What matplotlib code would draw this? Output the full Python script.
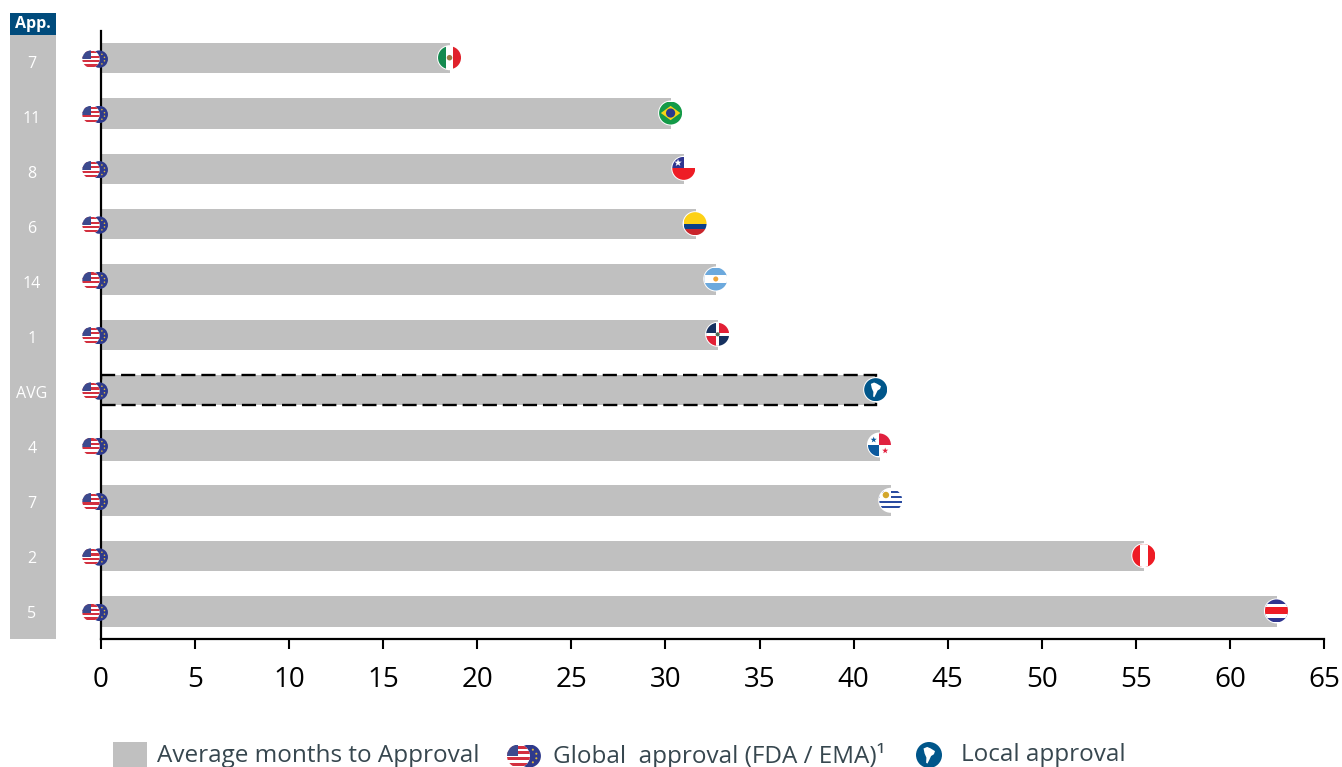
#!/usr/bin/env python3

import matplotlib
matplotlib.use("Agg")
import matplotlib.pyplot as plt
from matplotlib.patches import Rectangle, Circle, Polygon, PathPatch
from matplotlib.path import Path
from matplotlib.transforms import Affine2D

plt.rcParams['font.family'] = ['Open Sans', 'DejaVu Sans']

countries = ["Mexico", "Brazil", "Chile", "Colombia", "Argentina", "Dominican Republic",
             "AVG", "Panama", "Uruguay", "Peru", "Costa Rica"]
months = [18.55, 30.3, 31.0, 31.6, 32.7, 32.8, 41.2, 41.4, 42.0, 55.45, 62.5]
approvals = ["7", "11", "8", "6", "14", "1", "AVG", "4", "7", "2", "5"]
x_ticks = [0, 5, 10, 15, 20, 25, 30, 35, 40, 45, 50, 55, 60, 65]

W, H = 1342, 767
GREY = "#c0c0c0"
NAVY = "#004b7c"
BLUE = "#00568a"
TEXT = "#37474f"

fig = plt.figure(figsize=(W / 100, H / 100), dpi=100)
ax = fig.add_axes([101 / W, 1 - 639 / H, (1324 - 101) / W, (639 - 31) / H])

rows = list(range(len(countries)))
ax.barh(rows, months, height=0.55, color=GREY, zorder=1)

# dashed outline around the average row
avg = countries.index("AVG")
ax.barh(avg, months[avg], height=0.55, facecolor="none", edgecolor="black",
        linewidth=1.7, linestyle=(0, (6, 2.5)), zorder=2)

ax.set_xlim(0, 65)
ax.set_ylim(10.5, -0.49)
ax.set_xticks(x_ticks)
ax.set_yticks([])
ax.tick_params(axis="x", length=7.5, width=1.5, pad=12, labelsize=20, color="black")
ax.spines["top"].set_visible(False)
ax.spines["right"].set_visible(False)
ax.spines["left"].set_linewidth(1.6)
ax.spines["bottom"].set_linewidth(1.6)
ax.patch.set_alpha(0)


def px(x, y):
    return x, H - y


# a round badge: shapes are given on the unit disc and clipped to it
class Disc:
    def __init__(self, cx, cy, r, z=5, ring=True):
        self.tr = Affine2D().scale(r).translate(cx, cy)
        self.z = z
        self.clip = Circle((0, 0), 1, transform=self.tr, facecolor="none", edgecolor="none")
        if ring:
            fig.add_artist(Circle((cx, cy), r + 1.0, transform=Affine2D(), facecolor="white",
                                  edgecolor="none", zorder=z))

    def add(self, p):
        p.set_transform(self.tr)
        p.set_zorder(self.z + 0.1)
        p.set_linewidth(0)
        fig.add_artist(p)
        p.set_clip_path(self.clip.get_path(), self.tr)
        return p

    def rect(self, x0, y0, x1, y1, c):
        return self.add(Rectangle((x0, y0), x1 - x0, y1 - y0, facecolor=c))

    def poly(self, pts, c):
        return self.add(Polygon(pts, closed=True, facecolor=c))

    def dot(self, x, y, r, c):
        return self.add(Circle((x, y), r, facecolor=c))

    def star(self, x, y, r, c):
        star = Path.unit_regular_star(5, 0.4).transformed(Affine2D().scale(r).translate(x, y))
        return self.add(PathPatch(star, facecolor=c))


def flag_mexico(d):
    d.rect(-1, -1, -0.33, 1, "#138a4f")
    d.rect(-0.33, -1, 0.33, 1, "white")
    d.rect(0.33, -1, 1, 1, "#e0222b")
    d.dot(0, 0, 0.24, "#9a7a45")


def flag_brazil(d):
    d.rect(-1, -1, 1, 1, "#139a48")
    d.poly([(-0.85, 0), (0, 0.62), (0.85, 0), (0, -0.62)], "#f7d417")
    d.dot(0, 0, 0.4, "#2b3a8f")


def flag_chile(d):
    d.rect(-1, 0, 1, 1, "white")
    d.rect(-1, -1, 1, 0, "#ee1c25")
    d.rect(-1, 0, 0, 1, "#2f3590")
    d.star(-0.5, 0.48, 0.34, "white")


def flag_colombia(d):
    d.rect(-1, 0, 1, 1, "#fdd116")
    d.rect(-1, -0.5, 1, 0, "#0b3f8a")
    d.rect(-1, -1, 1, -0.5, "#c9252c")


def flag_argentina(d):
    d.rect(-1, -1, 1, 1, "#6ca9dd")
    d.rect(-1, -0.36, 1, 0.36, "white")
    d.dot(0, 0, 0.22, "#f0a63a")


def flag_dominican(d):
    d.rect(-1, 0, 0, 1, "#16305f")
    d.rect(0, 0, 1, 1, "#e21f35")
    d.rect(-1, -1, 0, 0, "#e21f35")
    d.rect(0, -1, 1, 0, "#16305f")
    d.rect(-1, -0.14, 1, 0.14, "white")
    d.rect(-0.14, -1, 0.14, 1, "white")
    d.dot(0, 0, 0.18, "#4f6a55")


def flag_avg(d):
    d.rect(-1, -1, 1, 1, BLUE)
    d.poly([(-0.42, 0.5), (-0.14, 0.62), (0.1, 0.52), (0.46, 0.3), (0.38, 0.06),
            (0.16, -0.08), (0.04, -0.34), (-0.12, -0.66), (-0.22, -0.6),
            (-0.2, -0.2), (-0.34, 0.12)], "white")


def flag_panama(d):
    d.rect(-1, 0, 0, 1, "white")
    d.rect(0, 0, 1, 1, "#e0213f")
    d.rect(-1, -1, 0, 0, "#0d5a9e")
    d.rect(0, -1, 1, 0, "white")
    d.star(-0.5, 0.45, 0.28, "#0d5a9e")
    d.star(0.5, -0.5, 0.28, "#e0213f")


def flag_uruguay(d):
    d.rect(-1, -1, 1, 1, "white")
    for y in [0.28, -0.16, -0.6, 0.72]:
        d.rect(-1, y - 0.11, 1, y + 0.11, "#2a4ba0")
    d.rect(-1, 0, 0, 1, "white")
    d.dot(-0.42, 0.46, 0.28, "#d3a72c")


def flag_peru(d):
    d.rect(-1, -1, 1, 1, "#ee1c25")
    d.rect(-0.36, -1, 0.36, 1, "white")


def flag_costa_rica(d):
    d.rect(-1, -1, 1, 1, "#2f3590")
    d.rect(-1, -0.62, 1, 0.62, "white")
    d.rect(-1, -0.3, 1, 0.3, "#ee1c25")


# the overlapping US / EU badge of the global approval
def badge_global(cx, cy, r):
    eu = Disc(cx + r * 0.95, cy, r, z=3, ring=False)
    eu.rect(-1, -1, 1, 1, "#2e3a8c")
    for sx, sy in [(0.3, 0.55), (0.6, 0.2), (0.6, -0.2), (0.3, -0.55)]:
        eu.dot(sx, sy, 0.09, "#e0b93a")
    us = Disc(cx, cy, r, z=4, ring=False)
    us.rect(-1, -1, 1, 1, "white")
    for k in range(4):
        y = 0.78 - k * 0.5
        us.rect(-1, y - 0.13, 1, y + 0.13, "#d3303f")
    us.rect(-1, -0.03, -0.02, 1, "#3c4a8e")


flags = [flag_mexico, flag_brazil, flag_chile, flag_colombia, flag_argentina, flag_dominican,
         flag_avg, flag_panama, flag_uruguay, flag_peru, flag_costa_rica]

fig.canvas.draw()
for row, value, flag in zip(rows, months, flags):
    cx, cy = ax.transData.transform((value, row))
    flag(Disc(cx - 0.5, cy + 0.4, 11.5, z=5))
    gx, gy = ax.transData.transform((0, row))
    badge_global(gx - 10, gy - 1.0, 8.7)

# approvals column on the left
fig.add_artist(Rectangle(px(10, 639), 46, 604, transform=Affine2D(), facecolor=GREY, linewidth=0))
fig.add_artist(Rectangle(px(10, 35), 46, 22, transform=Affine2D(), facecolor=NAVY, linewidth=0))
fig.text(33 / W, 1 - 24.5 / H, "App.", color="white", fontsize=11.5, fontweight="bold",
         ha="center", va="center")
for row, label in zip(rows, approvals):
    fig.text(32 / W, 1 - (64.5 + 54.9 * row) / H, label, color="white", fontsize=11.5,
             ha="center", va="center")

# legend row along the bottom edge
fig.add_artist(Rectangle(px(113, 767), 34, 25, transform=Affine2D(), facecolor=GREY, linewidth=0))
fig.text(157 / W, 1 - 756 / H, "Average months to Approval", color=TEXT, fontsize=17.5,
         ha="left", va="center")
badge_global(*px(518.5, 756), 11.5)
fig.text(553 / W, 1 - 756 / H, "Global  approval (FDA / EMA)\u00b9", color=TEXT, fontsize=17.5,
         ha="left", va="center")
flag_avg(Disc(*px(929, 755), 13, z=5, ring=False))
fig.text(961 / W, 1 - 755 / H, "Local approval", color=TEXT, fontsize=17.5,
         ha="left", va="center")

fig.savefig("out.png", dpi=100)
